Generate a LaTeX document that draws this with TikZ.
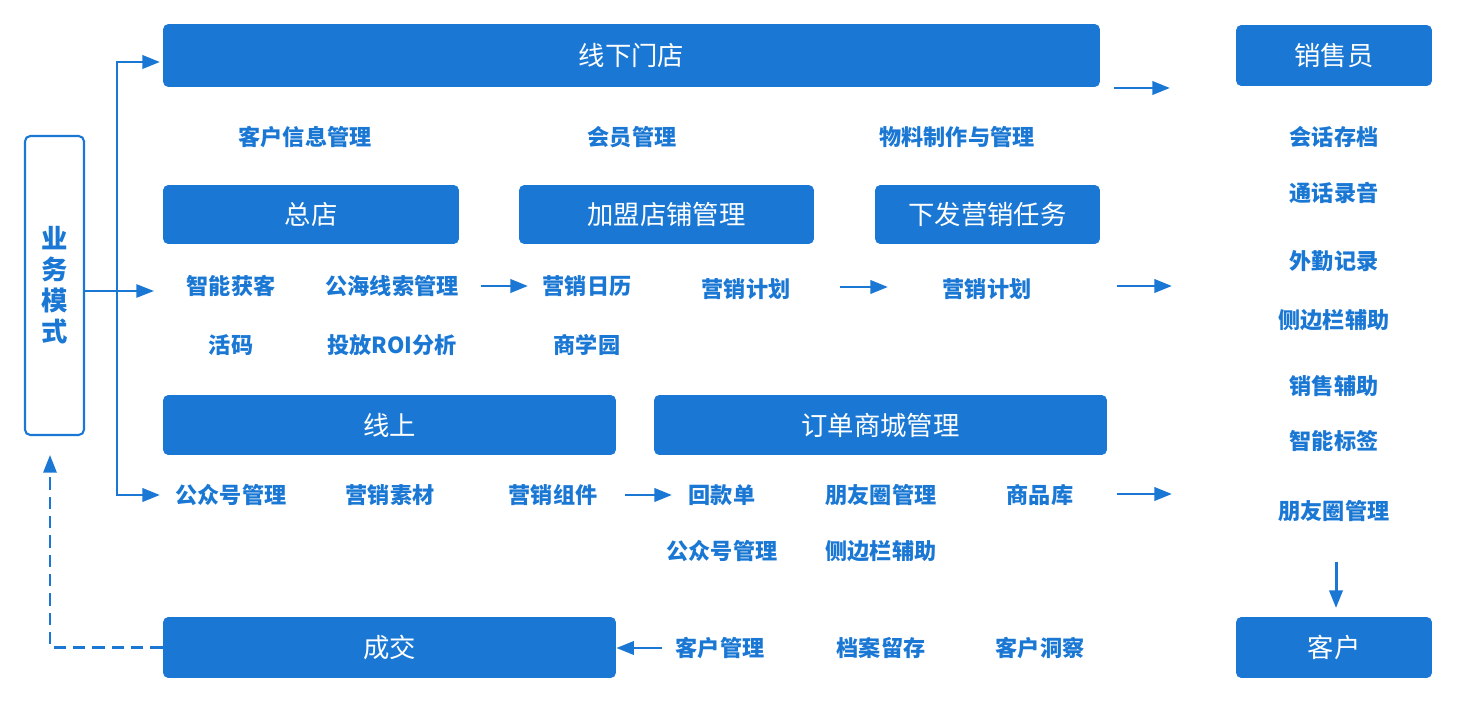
\documentclass[tikz,border=0pt]{standalone}
\usepackage{fontspec}
\setmainfont{Noto Sans CJK SC}
\usetikzlibrary{arrows.meta}
\definecolor{bizblue}{RGB}{26,120,212}
\tikzset{
  box/.style={fill=bizblue, rounded corners=3pt, text=white, inner sep=0pt,
    font=\fontsize{15}{17}\selectfont},
  item/.style={text=bizblue, inner sep=1pt, font=\bfseries\fontsize{12.6}{15}\selectfont},
  flow/.style={bizblue, line width=1.7pt, -{Triangle[length=10pt,width=7.5pt]}},
}
\begin{document}
\begin{tikzpicture}[x=0.02cm, y=-0.02cm]
\useasboundingbox (0,0) rectangle (1457,702);

% Left side
\node[draw=bizblue, line width=1.2pt, rounded corners=3pt, minimum width=1.18cm, minimum height=5.98cm,
  text=bizblue, align=center, font=\bfseries\fontsize{15}{17.6}\selectfont] (ywms) at (54.5,285.5) {业\\务\\模\\式};

\coordinate (brt) at (117,62);
\coordinate (brb) at (117,495);
\coordinate (toxxmd) at (160,62);
\coordinate (togzh) at (160,495);
\coordinate (tozd) at (154,291);
\coordinate (backup) at (50,455);

\draw[flow] (brb) -- (brt) -- (toxxmd);
\draw[flow] (brt) -- (brb) -- (togzh);
\draw[flow, line width=1.1pt] (ywms.east |- tozd) -- (tozd);

% Offline stores
\node[box, minimum width=18.74cm, minimum height=1.26cm] (xxmd) at (631.5,55.5) {线下门店};
\node[item] (khxx) at (305,137) {客户信息管理};
\node[item] (hygl) at (632,137) {会员管理};
\node[item] (wlzz) at (957,137) {物料制作与管理};

\node[box, minimum width=5.92cm, minimum height=1.18cm] (zd) at (311,214.5) {总店};
\node[box, minimum width=5.9cm, minimum height=1.18cm] (jm) at (666.5,214.5) {加盟店铺管理};
\node[box, minimum width=4.5cm, minimum height=1.18cm] (xf) at (987.5,214.5) {下发营销任务};

\node[item] (znhk) at (231,286) {智能获客};
\node[item] (ghxs) at (392,286) {公海线索管理};
\node[item] (yxrl) at (587,286) {营销日历};
\node[item] (yxjh1) at (746,289) {营销计划};
\node[item] (yxjh2) at (987,289) {营销计划};
\node[item] (hm) at (231,345) {活码};
\node[item] (tfroi) at (392,345) {投放ROI分析};
\node[item] (sxy) at (587,345) {商学园};

% Online
\node[box, minimum width=9.06cm, minimum height=1.2cm] (xs) at (389.5,425) {线上};
\node[box, minimum width=9.06cm, minimum height=1.2cm] (dd) at (880.5,425) {订单商城管理};

\node[item] (gzh1) at (231,495) {公众号管理};
\node[item] (yxsc) at (390,495) {营销素材};
\node[item] (yxzj) at (553,495) {营销组件};
\node[item] (hkd) at (722,495) {回款单};
\node[item] (pyq1) at (881,495) {朋友圈管理};
\node[item] (spk) at (1040,495) {商品库};
\node[item] (gzh2) at (722,551) {公众号管理};
\node[item] (cbl1) at (881,551) {侧边栏辅助};

% Deal
\node[box, minimum width=9.06cm, minimum height=1.22cm] (cj) at (389.5,647.5) {成交};
\node[item] (khgl) at (720,648) {客户管理};
\node[item] (dalc) at (881,648) {档案留存};
\node[item] (khdc) at (1040,648) {客户洞察};

% Sales and customer
\node[box, minimum width=3.92cm, minimum height=1.22cm] (xsy) at (1334,55.5) {销售员};
\node[item] (hhcd) at (1334,137) {会话存档};
\node[item] (thly) at (1334,193) {通话录音};
\node[item] (wqjl) at (1334,261) {外勤记录};
\node[item] (cbl2) at (1334,320) {侧边栏辅助};
\node[item] (xsfz) at (1334,386) {销售辅助};
\node[item] (znbq) at (1334,441) {智能标签};
\node[item] (pyq2) at (1334,511) {朋友圈管理};
\node[box, minimum width=3.92cm, minimum height=1.22cm] (kh) at (1334,647.5) {客户};

% Flow arrows
\coordinate (a1s) at (1114,88);  \coordinate (a1e) at (1170,88);
\coordinate (a2s) at (481,286);  \coordinate (a2e) at (528,286);
\coordinate (a3s) at (840,287);  \coordinate (a3e) at (888,287);
\coordinate (a4s) at (1117,286); \coordinate (a4e) at (1172,286);
\coordinate (a5s) at (625,495);  \coordinate (a5e) at (672,495);
\coordinate (a6s) at (1117,494); \coordinate (a6e) at (1172,494);
\coordinate (a7s) at (1336,562); \coordinate (a7e) at (1336,608);
\coordinate (a8s) at (662,648);

\draw[flow] (a1s) -- (a1e);
\draw[flow] (a2s) -- (a2e);
\draw[flow] (a3s) -- (a3e);
\draw[flow] (a4s) -- (a4e);
\draw[flow] (a5s) -- (a5e);
\draw[flow] (a6s) -- (a6e);
\draw[flow] (a7s) -- (a7e);
\draw[flow] (a8s) -- (cj.east |- a8s);

% Back to business model
\draw[flow, line width=1.3pt, dash pattern=on 7pt off 4pt] (cj.west) -| (backup);

\end{tikzpicture}
\end{document}
